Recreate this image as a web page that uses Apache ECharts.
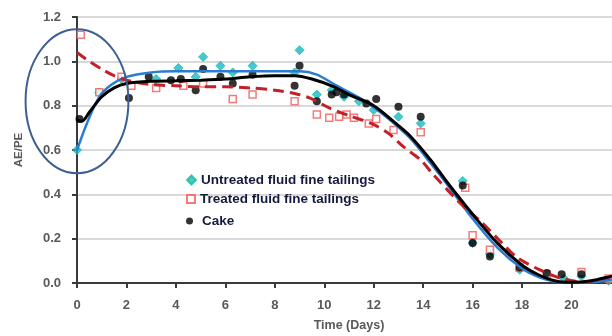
<!DOCTYPE html>
<html><head><meta charset="utf-8">
<script src="https://cdn.jsdelivr.net/npm/echarts@6/dist/echarts.min.js"></script>
<style>html,body{margin:0;padding:0;background:#fff}#c{width:612px;height:336px}</style>
</head><body><div id="c"></div>
<script>
var seriesNames = ['Untreated fluid fine tailings', 'Treated fluid fine tailings', 'Cake'];
var xTicks = [0,2,4,6,8,10,12,14,16,18,20,22];
var yTicks = [0,0.2,0.4,0.6,0.8,1.0,1.2];

var untreated = [[0,0.60],[0.9,0.86],[1.8,0.92],[3.2,0.92],[4.1,0.97],[4.8,0.93],[5.1,1.02],[5.8,0.98],[6.3,0.95],[7.1,0.98],[8.8,0.95],[9.0,1.05],[9.7,0.85],[10.3,0.87],[10.8,0.84],[11.4,0.82],[12.0,0.78],[13.0,0.75],[13.9,0.72],[15.6,0.46],[16.0,0.18],[16.7,0.13],[17.9,0.06],[19.0,0.03],[19.7,0.02],[20.4,0.03],[21.5,0.01]];
var treated = [[0.15,1.12],[0.9,0.86],[1.8,0.93],[2.2,0.89],[3.2,0.88],[4.3,0.89],[5.1,0.9],[6.3,0.83],[7.1,0.85],[8.8,0.82],[9.7,0.76],[10.2,0.745],[10.6,0.75],[10.9,0.76],[11.2,0.745],[11.8,0.72],[12.1,0.74],[12.8,0.69],[13.9,0.68],[15.7,0.43],[16.0,0.215],[16.7,0.15],[17.9,0.07],[19.0,0.04],[20.4,0.05],[21.5,0.02]];
var cake = [[0.1,0.74],[2.1,0.835],[2.9,0.93],[3.8,0.915],[4.2,0.92],[4.8,0.87],[5.1,0.965],[5.8,0.93],[6.3,0.90],[7.1,0.94],[8.8,0.89],[9.0,0.98],[9.7,0.82],[10.3,0.85],[10.5,0.86],[10.8,0.85],[11.7,0.81],[12.1,0.83],[13.0,0.795],[13.9,0.75],[15.6,0.44],[16.0,0.18],[16.7,0.12],[17.9,0.07],[19.0,0.045],[19.6,0.04],[20.4,0.04]];

var untreatedFit = [[0,0.60],[0.4,0.72],[0.9,0.84],[1.4,0.895],[2,0.93],[3,0.95],[4,0.955],[6,0.955],[8,0.955],[9,0.955],[9.7,0.94],[10.5,0.89],[11.5,0.83],[12.5,0.75],[13.5,0.65],[14.3,0.54],[15,0.44],[16,0.29],[17,0.16],[18,0.065],[18.7,0.025],[19.4,0.004],[20,0.0],[20.8,0.003],[21.6,0.015],[22,0.025]];
var treatedFit = [[0,1.04],[0.5,1.0],[1,0.965],[1.5,0.935],[2,0.915],[3,0.895],[4,0.89],[5,0.885],[6,0.885],[7,0.88],[8,0.87],[8.8,0.855],[9.4,0.835],[10.2,0.79],[11,0.755],[11.9,0.72],[12.6,0.675],[13.2,0.615],[13.9,0.555],[14.4,0.49],[15.5,0.36],[16.4,0.27],[17.1,0.19],[17.8,0.115],[18.7,0.06],[19.6,0.02],[20.5,0.005],[21.3,0.02],[22,0.03]];
var cakeFit = [[0,0.735],[0.2,0.73],[0.5,0.77],[1,0.84],[1.5,0.88],[2,0.90],[3,0.91],[4,0.912],[5,0.915],[6,0.92],[7,0.93],[8,0.935],[8.8,0.935],[9.5,0.92],[10.4,0.885],[11,0.85],[12,0.80],[13,0.71],[13.5,0.66],[14.3,0.555],[15,0.45],[16,0.31],[17,0.18],[18,0.08],[18.7,0.035],[19.4,0.008],[20,0.003],[20.8,0.01],[21.6,0.03],[22,0.04]];

var chart = echarts.init(document.getElementById('c'));
var gray = '#595959';
var ff = 'Liberation Sans, Arial, sans-serif';
var legendText = {color:'#141a3c', fontWeight:'bold', fontSize:13.5, fontFamily:ff};
chart.setOption({
  animation:false,
  grid:{left:77, top:17, right:-9, bottom:53, containLabel:false, outerBoundsMode:'none'},
  legend:[
    {data:[{name:seriesNames[0], icon:'diamond'}], left:181, top:168, itemWidth:9, itemHeight:9, itemGap:0, textStyle:legendText, selectedMode:false},
    {data:[{name:seriesNames[1], icon:'rect'}], left:181, top:187, itemWidth:8, itemHeight:8, textStyle:legendText, selectedMode:false},
    {data:[{name:seriesNames[2], icon:'circle'}], left:181, top:209, itemWidth:7, itemHeight:7, itemGap:0, textStyle:Object.assign({}, legendText, {padding:[0,0,0,4]}), selectedMode:false}
  ],
  xAxis:{type:'value', min:0, max:22, interval:2,
    name:'Time (Days)', nameLocation:'middle', nameGap:36,
    nameTextStyle:{color:gray, fontWeight:'bold', fontSize:12.5, fontFamily:ff},
    axisLine:{lineStyle:{color:'#3a3a3a', width:2}},
    axisTick:{show:true, length:5, lineStyle:{color:'#3a3a3a', width:2}},
    axisLabel:{color:gray, fontWeight:'bold', fontSize:13, margin:16, fontFamily:ff,
      formatter:function(v){return xTicks.indexOf(v)>=0 ? String(v) : '';}},
    splitLine:{show:false}},
  yAxis:{type:'value', min:0, max:1.2, interval:0.2,
    name:'AE/PE', nameLocation:'middle', nameGap:52, nameRotate:90,
    nameTextStyle:{color:gray, fontWeight:'bold', fontSize:11.5, fontFamily:ff},
    axisLine:{show:true, lineStyle:{color:'#3a3a3a', width:2}},
    axisTick:{show:true, length:5, lineStyle:{color:'#3a3a3a', width:2}},
    axisLabel:{color:gray, fontWeight:'bold', fontSize:13, margin:16, fontFamily:ff,
      formatter:function(v){var t=yTicks.filter(function(k){return Math.abs(k-v)<1e-6;}); return t.length? v.toFixed(1):'';}},
    splitLine:{show:true, lineStyle:{color:'#d9d9d9', width:2}}},
  series:[
    {name:seriesNames[0], type:'scatter', data:untreated, symbol:'diamond', symbolSize:9,
      itemStyle:{color:'#1ab8d0', borderColor:'#18c08a', borderWidth:1}, z:3},
    {name:seriesNames[1], type:'scatter', data:treated, symbol:'rect', symbolSize:7,
      itemStyle:{color:'#ffffff', borderColor:'#f05a5a', borderWidth:1.5}, z:3},
    {name:seriesNames[2], type:'scatter', data:cake, symbol:'circle', symbolSize:8,
      itemStyle:{color:'#000000'}, z:3},
    {name:'fitU', type:'line', data:untreatedFit, smooth:0.3, showSymbol:false, symbol:'none',
      lineStyle:{color:'#2b7bd0', width:2.5}, z:4},
    {name:'fitT', type:'line', data:treatedFit, smooth:0.3, showSymbol:false, symbol:'none',
      lineStyle:{color:'#c42027', width:3, type:[11,6]}, z:4},
    {name:'fitC', type:'line', data:cakeFit, smooth:0.3, showSymbol:false, symbol:'none',
      lineStyle:{color:'#000000', width:3}, z:5}
  ]
});
// annotation ellipse around the early-time region
var ctr = chart.convertToPixel({gridIndex:0}, [0, 0.82]);
var edge = chart.convertToPixel({gridIndex:0}, [2.08, 1.145]);
chart.setOption({graphic:[{type:'ellipse', shape:{cx:ctr[0], cy:ctr[1], rx:edge[0]-ctr[0], ry:ctr[1]-edge[1]},
  style:{fill:'none', stroke:'#3d5f92', lineWidth:2}, z:10}]});
</script></body></html>
